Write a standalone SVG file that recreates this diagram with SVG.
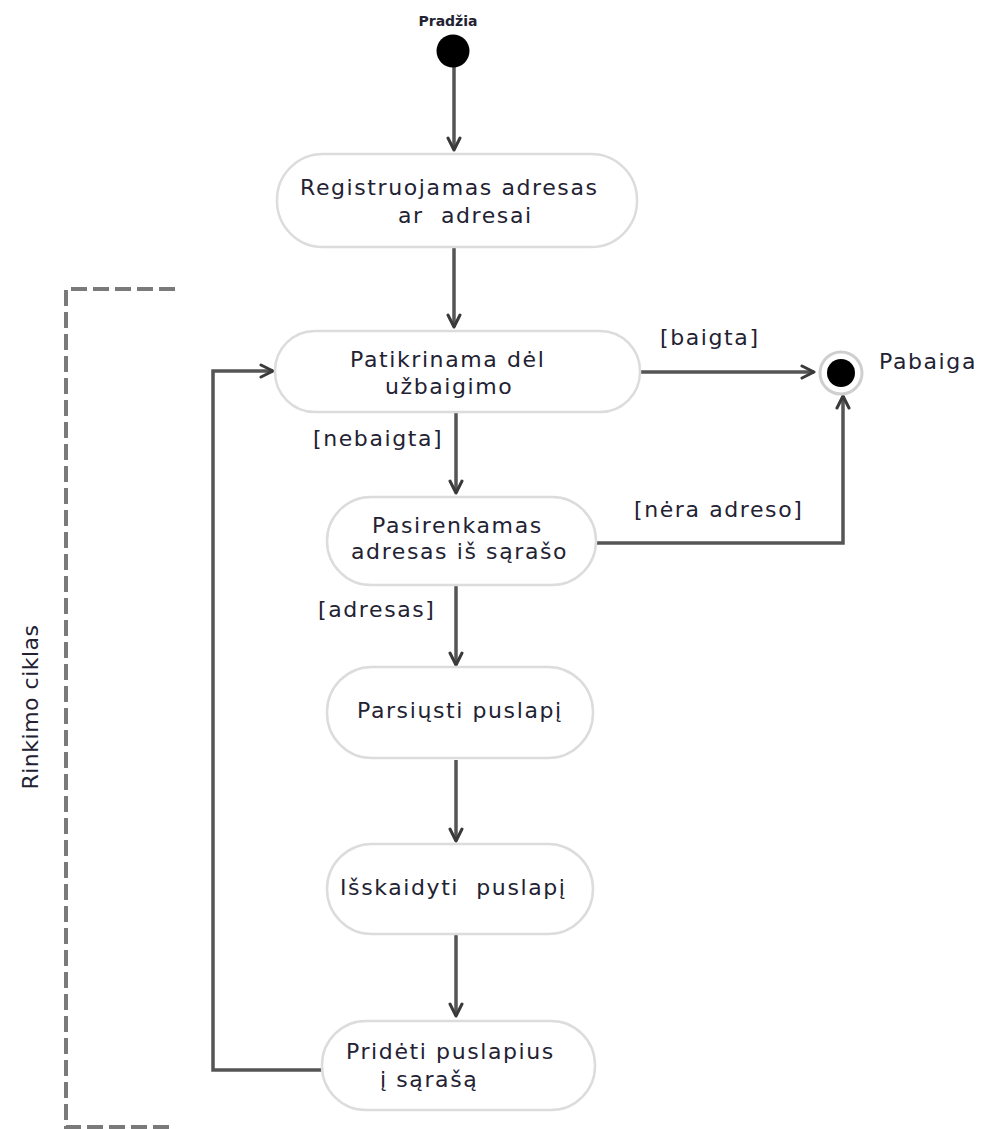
<svg xmlns="http://www.w3.org/2000/svg" width="988" height="1129" viewBox="0 0 988 1129">
  <defs>
    <marker id="arrow" viewBox="0 0 16 16" refX="14" refY="8" markerWidth="16" markerHeight="16" markerUnits="userSpaceOnUse" orient="auto">
      <path d="M2,2 L14,8 L2,14" fill="none" stroke="#3a3a3a" stroke-width="3" stroke-linecap="round" stroke-linejoin="round"/>
    </marker>
    <style>
      .node rect { fill: #ffffff; stroke: #dcdcdc; stroke-width: 2.5; }
      .lbl { font-family: "DejaVu Sans", "Open Sans", sans-serif; font-size: 22px; letter-spacing: 1.6px; fill: #222233; }
      .edge { fill: none; stroke: #555555; stroke-width: 3.5; }
      .frame { fill: none; stroke: #7a7a7a; stroke-width: 4; stroke-dasharray: 16 6; }
    </style>
  </defs>
  <rect width="988" height="1129" fill="#ffffff"/>

  <!-- loop frame -->
  <g id="loop-frame">
    <path class="frame" d="M175,289 H66 V1127 H172"/>
    <text class="lbl" style="letter-spacing:0.5px" transform="translate(38,707) rotate(-90)" text-anchor="middle">Rinkimo ciklas</text>
  </g>

  <!-- connectors -->
  <g id="connectors">
    <path class="edge" d="M454,66 V150" marker-end="url(#arrow)"/>
    <path class="edge" d="M454,248 V327" marker-end="url(#arrow)"/>
    <path class="edge" d="M641,372 H814" marker-end="url(#arrow)"/>
    <path class="edge" d="M456,413 V493" marker-end="url(#arrow)"/>
    <path class="edge" d="M597,543 H843 V396" marker-end="url(#arrow)"/>
    <path class="edge" d="M456,586 V665" marker-end="url(#arrow)"/>
    <path class="edge" d="M456,760 V841" marker-end="url(#arrow)"/>
    <path class="edge" d="M456,935 V1016" marker-end="url(#arrow)"/>
    <path class="edge" d="M323,1070 H213 V371 H273" marker-end="url(#arrow)"/>
    <text class="lbl" x="660" y="345">[baigta]</text>
    <text class="lbl" x="313" y="446">[nebaigta]</text>
    <text class="lbl" x="634" y="517">[nėra adreso]</text>
    <text class="lbl" x="318" y="617">[adresas]</text>
  </g>

  <!-- start -->
  <g id="start">
    <text x="448" y="26" text-anchor="middle" font-family="DejaVu Sans, sans-serif" font-size="14" font-weight="bold" fill="#222233">Pradžia</text>
    <circle cx="453" cy="51" r="16.5" fill="#000000"/>
  </g>

  <g id="register" class="node">
    <rect x="277" y="154" width="360" height="93" rx="46"/>
    <text class="lbl" x="300" y="195">Registruojamas adresas</text>
    <text class="lbl" x="398" y="223" xml:space="preserve">ar  adresai</text>
  </g>

  <g id="check" class="node">
    <rect x="275" y="331" width="365" height="81" rx="40"/>
    <text class="lbl" x="350" y="367">Patikrinama dėl</text>
    <text class="lbl" x="385" y="394">užbaigimo</text>
  </g>

  <g id="end">
    <circle cx="841" cy="373" r="21" fill="#ffffff" stroke="#cfcfcf" stroke-width="3"/>
    <circle cx="841" cy="373" r="14" fill="#000000"/>
    <text class="lbl" x="879" y="369">Pabaiga</text>
  </g>

  <g id="select" class="node">
    <rect x="327" y="497" width="269" height="88" rx="44"/>
    <text class="lbl" x="372" y="533">Pasirenkamas</text>
    <text class="lbl" x="351" y="559">adresas iš sąrašo</text>
  </g>

  <g id="download" class="node">
    <rect x="327" y="667" width="266" height="91" rx="45"/>
    <text class="lbl" x="357" y="718">Parsiųsti puslapį</text>
  </g>

  <g id="parse" class="node">
    <rect x="327" y="844" width="266" height="90" rx="45"/>
    <text class="lbl" x="340" y="895" xml:space="preserve">Išskaidyti  puslapį</text>
  </g>

  <g id="append" class="node">
    <rect x="322" y="1021" width="273" height="89" rx="44"/>
    <text class="lbl" x="346" y="1059">Pridėti puslapius</text>
    <text class="lbl" x="380" y="1087">į sąrašą</text>
  </g>
</svg>
